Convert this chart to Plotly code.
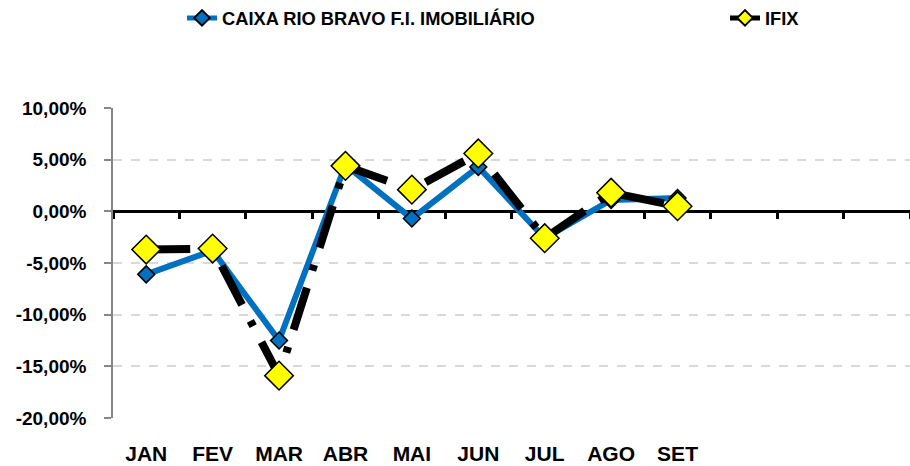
import plotly.graph_objects as go

months = ["JAN", "FEV", "MAR", "ABR", "MAI", "JUN", "JUL", "AGO", "SET"]
all_months = months + ["OUT", "NOV", "DEZ"]
caixa = [-6.1, -3.8, -12.5, 4.5, -0.7, 4.3, -2.6, 1.1, 1.3]
ifix = [-3.7, -3.6, -15.9, 4.4, 2.1, 5.6, -2.6, 1.8, 0.5]
y_ticks = [10, 5, 0, -5, -10, -15, -20]
y_ticktext = [f"{v:.2f}".replace(".", ",") + "%" for v in y_ticks]

base_font = "Liberation Sans, Arial, sans-serif"
legend_font = dict(family=base_font, size=18.3, color="black", weight="bold")

fig = go.Figure()
fig.add_trace(go.Scatter(
    x=months, y=caixa, name="CAIXA RIO BRAVO F.I. IMOBILIÁRIO",
    mode="lines+markers", xaxis="x", yaxis="y", legend="legend",
    line=dict(color="#0070C0", width=6),
    marker=dict(symbol="diamond", size=13, color="#0070C0",
                line=dict(color="black", width=1.5)),
))
fig.add_trace(go.Scatter(
    x=months, y=ifix, name="IFIX",
    mode="lines+markers", xaxis="x2", yaxis="y", legend="legend2",
    line=dict(color="black", width=8, dash="44px,18px,6px,18px"),
    marker=dict(symbol="diamond", size=22, color="#FFFF00",
                line=dict(color="black", width=1.5)),
))

fig.update_layout(
    width=910, height=466,
    margin=dict(l=113, r=0, t=108, b=48, autoexpand=False),
    paper_bgcolor="white", plot_bgcolor="white",
    showlegend=True,
    legend=dict(orientation="h", xref="container", yref="container",
                x=182 / 910, y=1 - 18 / 466, xanchor="left", yanchor="middle",
                itemsizing="constant", font=legend_font,
                bgcolor="rgba(0,0,0,0)"),
    legend2=dict(orientation="h", xref="container", yref="container",
                 x=725 / 910, y=1 - 18 / 466, xanchor="left", yanchor="middle",
                 itemsizing="constant", font=legend_font,
                 bgcolor="rgba(0,0,0,0)"),
    xaxis=dict(type="category", categoryorder="array", categoryarray=all_months,
               range=[-0.5, 11.5], tickmode="array", tickvals=months,
               showline=False, showgrid=False, zeroline=False, ticks="",
               ticklabelstandoff=21,
               tickfont=dict(family=base_font, size=21, color="black", weight="bold")),
    xaxis2=dict(type="category", categoryorder="array", categoryarray=all_months,
                range=[-0.5, 11.5], overlaying="x", anchor="free", position=20 / 30,
                showline=True, linecolor="black", linewidth=3,
                ticks="outside", tickson="boundaries", ticklen=6, tickwidth=3,
                tickcolor="black", showticklabels=False, showgrid=False,
                zeroline=False, layer="below traces"),
    yaxis=dict(range=[-20, 10], tickmode="array", tickvals=y_ticks, ticktext=y_ticktext,
               showline=True, linecolor="#868686", linewidth=1.5,
               ticks="outside", ticklen=7, tickcolor="#868686", tickwidth=1.5,
               showgrid=True, gridcolor="#D9D9D9", griddash="dash", gridwidth=1.5,
               zeroline=False, ticklabelstandoff=14,
               tickfont=dict(family=base_font, size=19, color="black", weight="bold")),
)

fig.write_html("out.html", config={"displayModeBar": False},
               post_script="document.body.style.margin='0';document.body.style.padding='0';document.body.style.overflow='hidden';")
